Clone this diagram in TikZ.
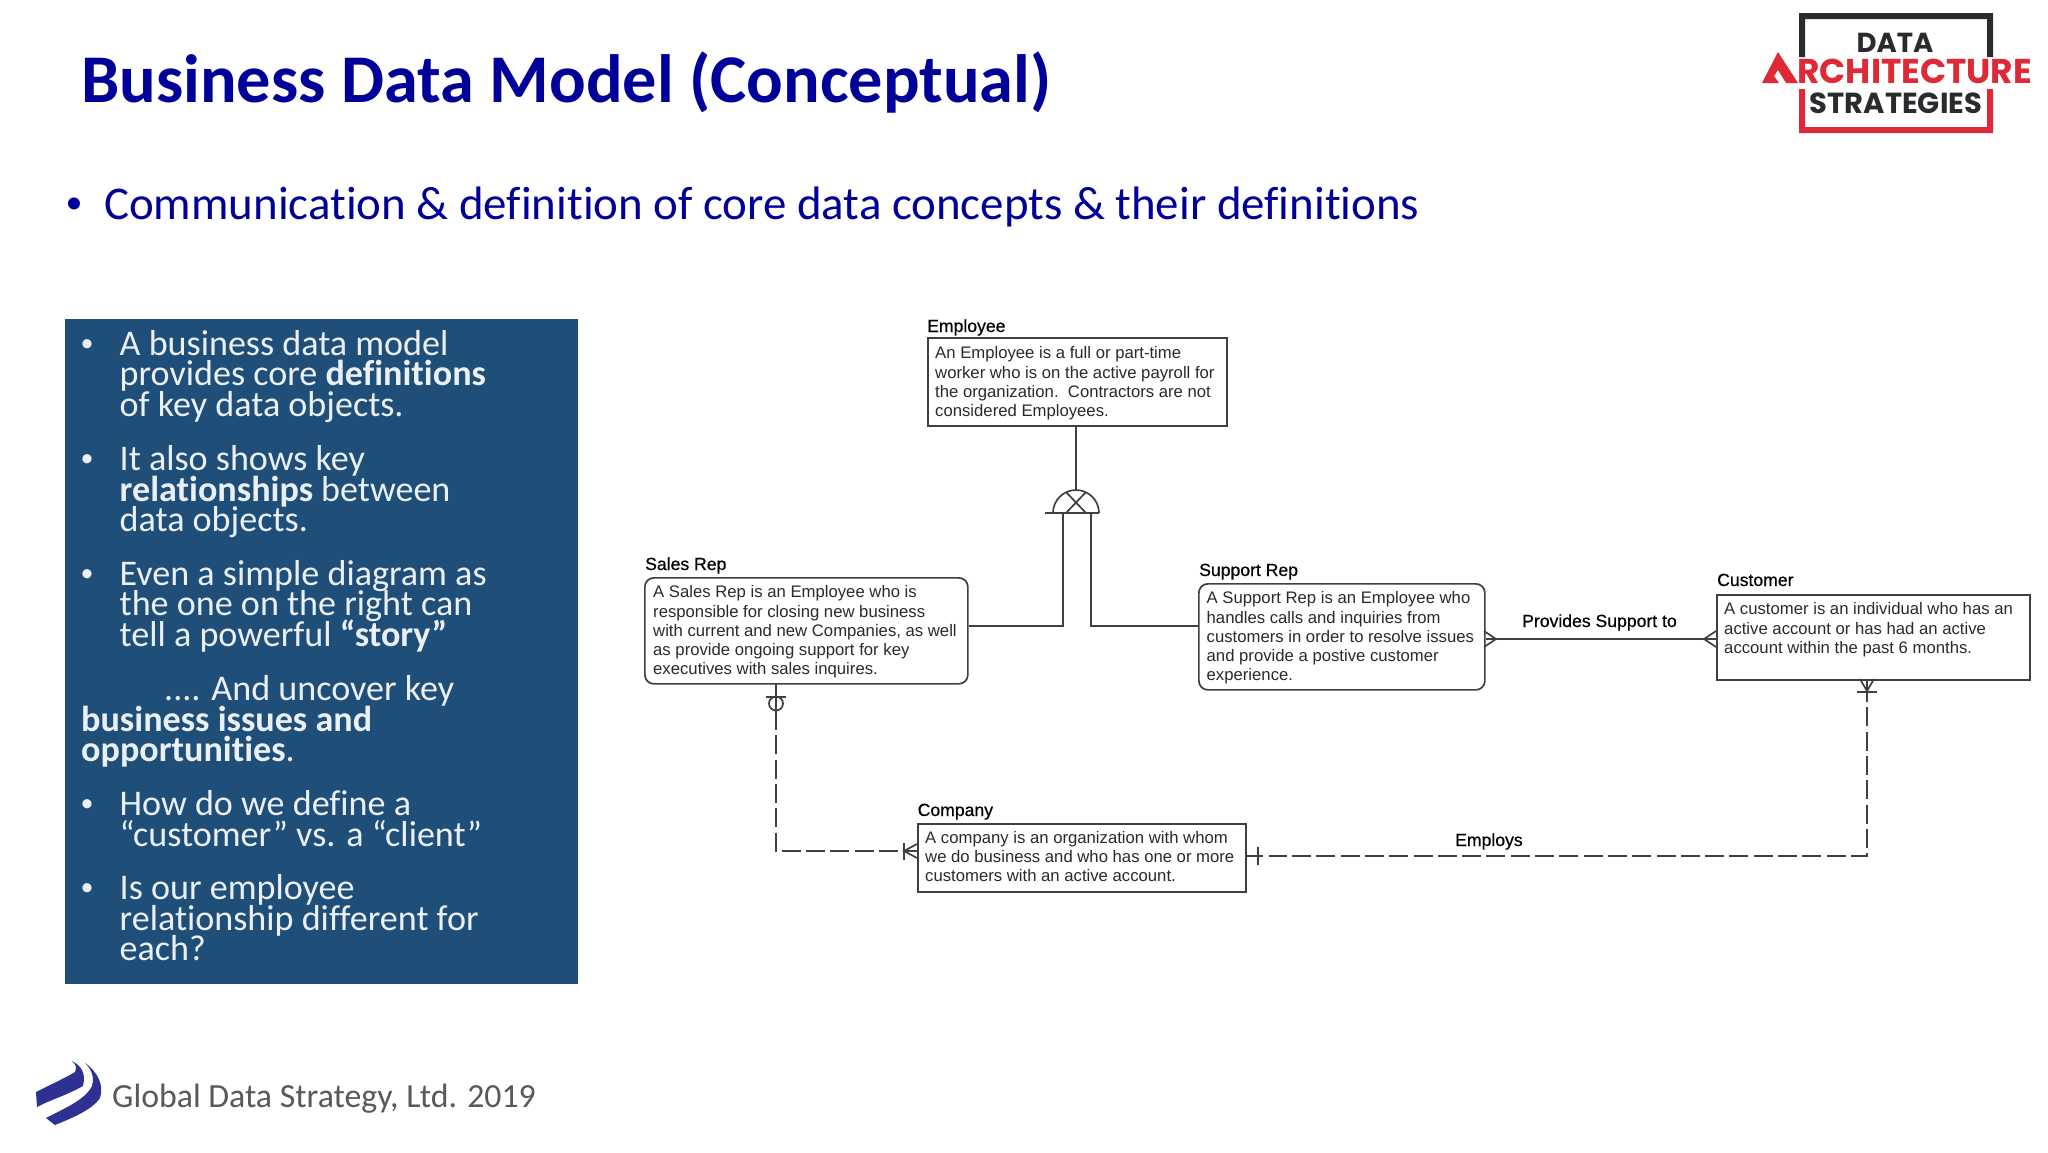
\documentclass[tikz,border=0pt]{standalone}
\usepackage{fontspec}
\setmainfont[Ligatures=NoCommon]{Carlito}
\newfontfamily\erfont{Liberation Sans}
\newfontfamily\ertitlefont[FakeBold=0.6]{Liberation Sans}
\newfontfamily\logofont{Poppins}
\definecolor{titleblue}{HTML}{000099}
\definecolor{panelblue}{HTML}{1F4E79}
\definecolor{paneltext}{HTML}{EAF0F5}
\definecolor{erline}{HTML}{404040}
\definecolor{ertext}{HTML}{2A2A2A}
\definecolor{logored}{HTML}{DE2A36}
\definecolor{logoblack}{HTML}{2B2B2F}
\definecolor{swoosh}{HTML}{2E3192}
\definecolor{footgray}{HTML}{595959}
\tikzset{
  px/.style={x=1pt,y=-1pt},
  ebox/.style={draw=erline,line width=1.7pt,fill=white,inner sep=0pt,minimum width=#1,anchor=north west},
  etitle/.style={anchor=base west,inner sep=0pt,text=black,font=\ertitlefont\fontsize{17.6}{19}\selectfont},
  ebody/.style={anchor=north west,inner sep=0pt,align=left,text=ertext,font=\erfont\fontsize{16.7}{19.2}\selectfont},
  rel/.style={draw=erline,line width=1.7pt},
  reldash/.style={draw=erline,line width=1.7pt,dash pattern=on 19pt off 5.3pt,dash phase=9pt},
  ptext/.style={anchor=base west,inner sep=0pt,text=paneltext,font=\fontsize{36.1}{30.5}\selectfont},
  pbullet/.style={anchor=base,inner sep=0pt,text=paneltext,font=\fontsize{26}{30}\selectfont},
}
\begin{document}
\begin{tikzpicture}[px]
\useasboundingbox (0,0) rectangle (2048,1152);
\fill[white] (0,0) rectangle (2048,1152);
% title
\node[anchor=base west,inner sep=0pt,text=titleblue,font=\fontsize{68.3}{72}\selectfont\bfseries] (title) at (81,102) {Business Data Model (Conceptual)};
\node[anchor=base,inner sep=0pt,text=titleblue,font=\fontsize{34}{40}\selectfont] (topbullet) at (74,213) {•};
\node[anchor=base west,inner sep=0pt,text=titleblue,font=\fontsize{46.9}{50}\selectfont] (subtitle) at (104,219) {Communication \& definition of core data concepts \& their definitions};
% panel
\fill[panelblue] (65,319) rectangle (578,984);
\foreach \n/\y in {a/351,b/466,c/581,d/811,e/895}{\node[pbullet] (bul\n) at (87,\y) {•};}
\node[ptext] (p1a) at (119.5,355) {A business data model};
\node[ptext] (p1b) at (119.5,385) {provides core \textbf{definitions}};
\node[ptext] (p1c) at (119.5,416) {of key data objects.};
\node[ptext] (p2a) at (119.5,470) {It also shows key};
\node[ptext] (p2b) at (119.5,501) {\textbf{relationships} between};
\node[ptext] (p2c) at (119.5,531) {data objects.};
\node[ptext] (p3a) at (119.5,585) {Even a simple diagram as};
\node[ptext] (p3b) at (119.5,615) {the one on the right can};
\node[ptext] (p3c) at (119.5,646) {tell a powerful \textbf{“story”}};
\node[ptext] (p4a) at (164,700) {.... And uncover key};
\node[ptext] (p4b) at (81,731) {\textbf{business issues and}};
\node[ptext] (p4c) at (81,761) {\textbf{opportunities}.};
\node[ptext] (p5a) at (119.5,815) {How do we define a};
\node[ptext] (p5b) at (119.5,846) {“customer” vs. a “client”};
\node[ptext] (p6a) at (119.5,899) {Is our employee};
\node[ptext] (p6b) at (119.5,930) {relationship different for};
\node[ptext] (p6c) at (119.5,960) {each?};
% entities
\node[ebox=299pt,minimum height=88pt] (employee) at (927,337) {};
\node[ebox=323pt,minimum height=106pt,rounded corners=9pt] (sales) at (644,577) {};
\node[ebox=286pt,minimum height=106pt,rounded corners=9pt] (support) at (1198,583) {};
\node[ebox=313pt,minimum height=85pt] (customer) at (1716,594) {};
\node[ebox=328pt,minimum height=68pt] (company) at (917,823) {};
\node[etitle] (employeeT) at (927,332) {Employee};
\node[etitle] (salesT) at (645,570) {Sales Rep};
\node[etitle] (supportT) at (1199,576) {Support Rep};
\node[etitle] (customerT) at (1717,586) {Customer};
\node[etitle] (companyT) at (917.5,816) {Company};
\node[ebody] (employeeB) at (935,346.5) {An Employee is a full or part-time\\worker who is on the active payroll for\\the organization.\ \ Contractors are not\\considered Employees.};
\node[ebody] (salesB) at (653,585.5) {A Sales Rep is an Employee who is\\responsible for closing new business\\with current and new Companies, as well\\as provide ongoing support for key\\executives with sales inquires.};
\node[ebody] (supportB) at (1206.5,591.5) {A Support Rep is an Employee who\\handles calls and inquiries from\\customers in order to resolve issues\\and provide a postive customer\\experience.};
\node[ebody] (customerB) at (1724,602.5) {A customer is an individual who has an\\active account or has had an active\\account within the past 6 months.};
\node[ebody] (companyB) at (925,831) {A company is an organization with whom\\we do business and who has one or more\\customers with an active account.};
% labels
\node[etitle] (provides) at (1522,627) {Provides Support to};
\node[etitle] (employs) at (1455,846) {Employs};
% subtype
\coordinate (jtop) at (1076,490);
\coordinate (jleft) at (1053,513);
\coordinate (jright) at (1099,513);
\coordinate (jtail) at (1045,513);
\draw[rel] (employee.south -| jtop) -- (jtop);
\draw[rel] (jleft) arc[start angle=180,end angle=360,radius=23];
\draw[rel] (jtail) -- (jright);
\draw[rel] (1066,492) -- (1086,513) (1086,492) -- (1066,513);
\coordinate (jl) at (1063,513);
\coordinate (jr) at (1091,513);
\coordinate (sl) at (1063,626);
\coordinate (sr) at (1091,626);
\draw[rel] (jl) -- (sl) -- (sl -| sales.east);
\draw[rel] (jr) -- (sr) -- (sr -| support.west);
% provides support
\coordinate (pl) at (support.east |- 0,639);
\coordinate (pr) at (customer.west |- 0,639);
\draw[rel] (pl) -- (pr);
\draw[rel] (1484,631) -- (1496,639) -- (1484,647);
\draw[rel] (1716,631) -- (1704,639) -- (1716,647);
% employs
\coordinate (ec) at (1867,856);
\coordinate (ecu) at (1867,692);
\coordinate (el) at (1245,856);
\draw[rel] (1867,679) -- (ecu);
\draw[rel] (1860,679) -- (1867,691) -- (1874,679);
\draw[rel] (1857,692) -- (1877,692);
\draw[reldash] (ecu) -- (ec) -- (1269,856);
\draw[rel] (el) -- (1263,856);
\draw[rel] (1258,847) -- (1258,865);
% sales-company
\coordinate (sc) at (776,851);
\coordinate (scu) at (776,711);
\draw[rel] (776,683) -- (scu);
\draw[rel] (766,697) -- (786,697);
\draw[rel,fill=none] (776,703.5) circle[radius=7];
\draw[reldash,dash phase=0pt] (scu) -- (sc) -- (904,851);
\draw[rel] (904,851) -- (917,851);
\draw[rel] (904,843) -- (904,860);
\draw[rel] (917,844) -- (904,851) -- (917,858);
% top-right logo
\fill[logoblack] (1799,13) rectangle (1993,19) (1799,13) rectangle (1805,57) (1987,13) rectangle (1993,57);
\fill[logored] (1799,127) rectangle (1993,133) (1799,89) rectangle (1805,133) (1987,89) rectangle (1993,133);
\node[anchor=base,inner sep=0pt,text=logoblack,font=\logofont\bfseries\fontsize{27.5}{26}\selectfont] (logo1) at (1895,52) {DATA};
\node[anchor=base west,inner sep=0pt,text=logored,font=\logofont\bfseries\fontsize{34.4}{30}\selectfont] (logo2) at (1797,83) {RCHITECTURE};
\node[anchor=base,inner sep=0pt,text=logoblack,font=\logofont\bfseries\fontsize{29}{26}\selectfont] (logo3) at (1896,113) {STRATEGIES};
\fill[logored] (1778,52) -- (1798,83) -- (1786,83) -- (1778,70) -- (1774,76) -- (1779,83) -- (1762,83) -- cycle;
% bottom-left logo
\fill[swoosh] (36,1092) .. controls (50,1085) and (65,1078) .. (75,1072) .. controls (77,1068) and (76,1064) .. (72,1061) .. controls (82,1066) and (86,1074) .. (83,1086) .. controls (65,1096) and (50,1100) .. (37,1107) -- cycle;
\fill[swoosh] (46,1118) .. controls (65,1108) and (85,1100) .. (92,1086) .. controls (95,1075) and (90,1068) .. (85,1063) .. controls (98,1072) and (104,1085) .. (100,1098) .. controls (92,1110) and (72,1118) .. (55,1125) -- cycle;
\node[anchor=base west,inner sep=0pt,text=footgray,font=\fontsize{33.8}{36}\selectfont] (footer) at (112,1107) {Global Data Strategy, Ltd. 2019};
\end{tikzpicture}
\end{document}
